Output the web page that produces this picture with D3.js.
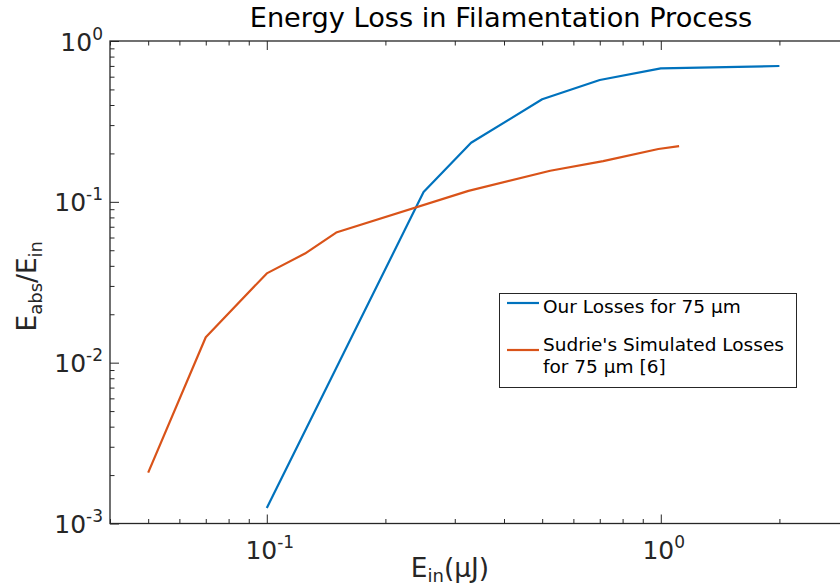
<!DOCTYPE html>
<html><head><meta charset="utf-8">
<script src="https://cdn.jsdelivr.net/npm/d3@7"></script>
<style>body{margin:0;background:#fff}svg{display:block}</style>
</head><body>
<svg id="c" width="840" height="588"></svg>
<script>
// ---- data ----
const ourX = [0.1, 0.25, 0.33, 0.5, 0.7, 1, 2];
const ourY = [0.00125, 0.115, 0.233, 0.434, 0.572, 0.676, 0.699];
const sudX = [0.05, 0.07, 0.1, 0.125, 0.15, 0.325, 0.524, 0.714, 0.986, 1.113];
const sudY = [0.00207, 0.0144, 0.0359, 0.0477, 0.0644, 0.117, 0.156, 0.179, 0.213, 0.222];
const xTickVals = [0.1, 1];
const xTickExp = ["-1", "0"];
const yTickVals = [1, 0.1, 0.01, 0.001];
const yTickExp = ["0", "-1", "-2", "-3"];
const seriesNames = [["Our Losses for 75 μm"], ["Sudrie's Simulated Losses", "for 75 μm [6]"]];
const seriesColors = ["#0072BD", "#D95319"];
const titleText = "Energy Loss in Filamentation Process";

// ---- layout ----
const FONT = "DejaVu Sans, Verdana, sans-serif";
const AX = "#262626";
const L = 110, R = 898, T = 41, B = 523.5;
const svg = d3.select("#c");
const x = d3.scaleLog().domain([0.04, 4]).range([L, R]);
const y = d3.scaleLog().domain([0.001, 1]).range([B, T]);

function minors(lo, hi) {
  const out = [];
  for (let e = -4; e <= 1; e++) for (let m = 2; m <= 9; m++) {
    const v = m * Math.pow(10, e);
    if (v >= lo * 0.9999 && v <= hi * 1.0001) out.push(v);
  }
  return out;
}
const xMin = minors(0.04, 4), yMin = minors(0.001, 1);

function styleAxis(g) {
  g.select(".domain").remove();
  g.selectAll("line").attr("stroke", AX).attr("stroke-width", 1);
  g.selectAll("text").remove();
}
// bottom / top ticks
svg.append("g").attr("transform", `translate(0,${B})`)
  .call(d3.axisBottom(x).tickValues(xTickVals).tickSizeInner(-9).tickSizeOuter(0).tickFormat(""))
  .call(styleAxis);
svg.append("g").attr("transform", `translate(0,${B})`)
  .call(d3.axisBottom(x).tickValues(xMin).tickSizeInner(-4.5).tickSizeOuter(0).tickFormat(""))
  .call(styleAxis);
svg.append("g").attr("transform", `translate(0,${T})`)
  .call(d3.axisTop(x).tickValues(xTickVals).tickSizeInner(-9).tickSizeOuter(0).tickFormat(""))
  .call(styleAxis);
svg.append("g").attr("transform", `translate(0,${T})`)
  .call(d3.axisTop(x).tickValues(xMin).tickSizeInner(-4.5).tickSizeOuter(0).tickFormat(""))
  .call(styleAxis);
// left / right ticks
svg.append("g").attr("transform", `translate(${L},0)`)
  .call(d3.axisLeft(y).tickValues(yTickVals).tickSizeInner(-9).tickSizeOuter(0).tickFormat(""))
  .call(styleAxis);
svg.append("g").attr("transform", `translate(${L},0)`)
  .call(d3.axisLeft(y).tickValues(yMin).tickSizeInner(-4.5).tickSizeOuter(0).tickFormat(""))
  .call(styleAxis);
svg.append("g").attr("transform", `translate(${R},0)`)
  .call(d3.axisRight(y).tickValues(yTickVals).tickSizeInner(-9).tickSizeOuter(0).tickFormat(""))
  .call(styleAxis);

// box
svg.append("rect").attr("x", L).attr("y", T).attr("width", R - L).attr("height", B - T)
  .attr("fill", "none").attr("stroke", AX).attr("stroke-width", 1.3);

// tick labels
const xl = svg.append("g").attr("font-family", FONT).attr("fill", AX);
xTickVals.forEach((v, i) => {
  const t = xl.append("text").attr("x", x(v) + 3).attr("y", B + 35).attr("text-anchor", "middle")
    .attr("font-size", 25);
  t.append("tspan").text("10");
  t.append("tspan").attr("font-size", 17).attr("dy", -11).text(xTickExp[i]);
});
const yl = svg.append("g").attr("font-family", FONT).attr("fill", AX);
yTickVals.forEach((v, i) => {
  const t = yl.append("text").attr("x", L - 7).attr("y", y(v) + 9.5).attr("text-anchor", "end")
    .attr("font-size", 25);
  t.append("tspan").text("10");
  t.append("tspan").attr("font-size", 17).attr("dy", -11).text(yTickExp[i]);
});

// lines
const line = d3.line().x(d => x(d[0])).y(d => y(d[1]));
const series = [d3.zip(ourX, ourY), d3.zip(sudX, sudY)];
series.forEach((s, i) => {
  svg.append("path").datum(s).attr("d", line).attr("fill", "none")
    .attr("stroke", seriesColors[i]).attr("stroke-width", 2.2).attr("stroke-linejoin", "round");
});

// title
svg.append("text").attr("x", 501).attr("y", 27).attr("text-anchor", "middle")
  .attr("font-family", FONT).attr("font-size", 27.2).attr("fill", "#000").text(titleText);

// x label
const xlab = svg.append("text").attr("x", 450).attr("y", 577).attr("text-anchor", "middle")
  .attr("font-family", FONT).attr("font-size", 26.4).attr("fill", AX);
xlab.append("tspan").text("E");
xlab.append("tspan").attr("font-size", 18).attr("dy", 5).text("in");
xlab.append("tspan").attr("dy", -5).text("(μJ)");

// y label
const ylab = svg.append("text").attr("transform", `translate(36,${(T + B) / 2 + 4}) rotate(-90)`)
  .attr("text-anchor", "middle").attr("font-family", FONT).attr("font-size", 26.4).attr("fill", AX);
ylab.append("tspan").text("E");
ylab.append("tspan").attr("font-size", 18).attr("dy", 6).text("abs");
ylab.append("tspan").attr("dy", -6).text("/E");
ylab.append("tspan").attr("font-size", 18).attr("dy", 6).text("in");

// legend
const lg = svg.append("g");
lg.append("rect").attr("x", 499.5).attr("y", 293.5).attr("width", 297).attr("height", 94)
  .attr("fill", "#fff").attr("stroke", AX).attr("stroke-width", 1);
const legRows = [{ ly: 303, ty: 313 }, { ly: 350, ty: 351 }];
seriesNames.forEach((names, i) => {
  lg.append("line").attr("x1", 507).attr("x2", 539).attr("y1", legRows[i].ly).attr("y2", legRows[i].ly)
    .attr("stroke", seriesColors[i]).attr("stroke-width", 2.2);
  names.forEach((n, j) => {
    lg.append("text").attr("x", 543).attr("y", legRows[i].ty + j * 22)
      .attr("font-family", FONT).attr("font-size", 18.5).attr("fill", "#000").text(n);
  });
});
</script>
</body></html>
